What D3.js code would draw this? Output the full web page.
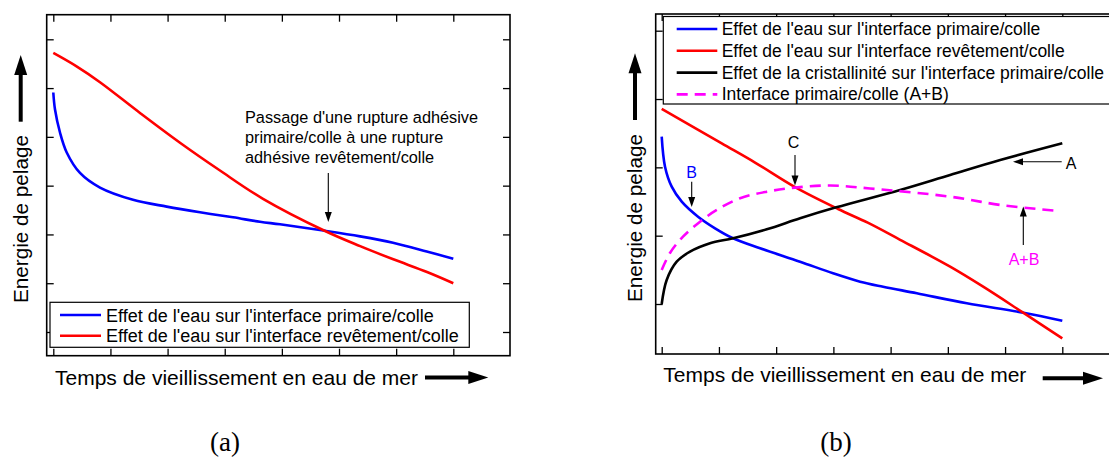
<!DOCTYPE html>
<html><head><meta charset="utf-8">
<script src="https://cdn.jsdelivr.net/npm/d3@7"></script>
<style>body{margin:0;background:#fff} svg{display:block} text{font-family:"Liberation Sans",Arial,sans-serif;fill:#000}</style>
</head><body><svg id="c" width="1109" height="458"></svg>
<script>
// ---------- data ----------
const xTicks = [0,1,2,3,4,5,6,7];
const yTicksA = [0,1,2,3,4,5,6];
const yTicksB = [0,1,2,3,4];

// panel (a)
const aBlueX = [0,0.03,0.117,0.235,0.467,0.817,1.395,1.985,2.567,3.145,3.617,3.967,4.756,5.37,5.945,6.535,7.0];
const aBlueY = [4.91,4.56,4.09,3.68,3.26,2.96,2.71,2.57,2.454,2.351,2.259,2.207,2.074,1.96,1.83,1.65,1.50];
const aRedX  = [0,0.4,0.817,1.517,2.217,2.917,3.67,4.756,5.37,5.95,6.54,7.0];
const aRedY  = [5.72,5.45,5.12,4.49,3.88,3.31,2.73,2.07,1.76,1.49,1.23,1.0];

// panel (b)
const bBlueX = [0,0.058,0.175,0.35,0.635,0.932,1.247,1.719,2.418,2.995,3.467,3.869,4.458,5.332,6.322,7.0];
const bBlueY = [2.449,2.01,1.717,1.498,1.278,1.108,0.962,0.816,0.619,0.449,0.327,0.253,0.157,0.01,-0.127,-0.245];
const bRedX  = [0,1.049,1.631,2.33,3.082,3.6,4.166,5.04,5.617,6.316,7.0];
const bRedY  = [2.855,2.35,2.07,1.71,1.39,1.19,0.94,0.546,0.253,-0.127,-0.502];
const bBlackX = [0,0.087,0.262,0.495,0.844,1.247,1.836,2.418,3.05,4.166,5.04,5.915,7.0];
const bBlackY = [0,0.351,0.619,0.766,0.889,0.962,1.094,1.255,1.415,1.669,1.889,2.108,2.353];
const bMagX = [0,0.145,0.372,0.67,0.962,1.369,1.836,2.33,2.942,3.64,5.04,5.915,6.876];
const bMagY = [0.498,0.747,0.985,1.205,1.376,1.548,1.644,1.703,1.735,1.691,1.571,1.45,1.367];

const legendA = ["Effet de l'eau sur l'interface primaire/colle","Effet de l'eau sur l'interface revêtement/colle"];
const legendB = ["Effet de l'eau sur l'interface primaire/colle","Effet de l'eau sur l'interface revêtement/colle","Effet de la cristallinité sur l'interface primaire/colle","Interface primaire/colle (A+B)"];
const annotA = ["Passage d'une rupture adhésive","primaire/colle à une rupture","adhésive revêtement/colle"];
const xLabel = "Temps de vieillissement en eau de mer";
const yLabel = "Energie de pelage";

const BLUE="#0000ff", RED="#ff0000", BLACK="#000000", MAG="#ff00ff";

// ---------- drawing ----------
const svg = d3.select("#c");
const zip = (xs,ys)=>xs.map((x,i)=>[x,ys[i]]);

function drawArrow(g,x1,y1,x2,y2,w,hl,hw){
  const dx=x2-x1, dy=y2-y1, L=Math.hypot(dx,dy), ux=dx/L, uy=dy/L;
  const bx=x2-ux*hl, by=y2-uy*hl;
  g.append("line").attr("x1",x1).attr("y1",y1).attr("x2",bx+ux*1).attr("y2",by+uy*1)
    .attr("stroke","#000").attr("stroke-width",w);
  g.append("path").attr("d",`M${x2},${y2}L${bx-uy*hw},${by+ux*hw}L${bx+uy*hw},${by-ux*hw}Z`).attr("fill","#000");
}

function panel(o){
  const g = svg.append("g");
  const x = d3.scaleLinear().domain([0,7]).range(o.xr);
  const y = d3.scaleLinear().domain([0,o.yTicks[o.yTicks.length-1]]).range(o.yr);
  const L=o.frame[0], T=o.frame[1], R=o.frame[2], B=o.frame[3];
  const tk=7;
  g.append("g").attr("transform",`translate(0,${T})`).call(d3.axisBottom(x).tickValues(xTicks).tickSize(tk).tickFormat(""));
  g.append("g").attr("transform",`translate(0,${B})`).call(d3.axisTop(x).tickValues(xTicks).tickSize(tk).tickFormat(""));
  g.append("g").attr("transform",`translate(${L},0)`).call(d3.axisRight(y).tickValues(o.yTicks).tickSize(tk).tickFormat(""));
  g.append("g").attr("transform",`translate(${R},0)`).call(d3.axisLeft(y).tickValues(o.yTicks).tickSize(tk).tickFormat(""));
  g.selectAll(".domain").remove();
  g.selectAll(".tick line").attr("stroke","#000").attr("stroke-width",1.3);
  g.append("rect").attr("x",L).attr("y",T).attr("width",R-L).attr("height",B-T)
    .attr("fill","none").attr("stroke","#000").attr("stroke-width",1.6);
  const line = d3.line().x(d=>x(d[0])).y(d=>y(d[1])).curve(d3.curveCatmullRom.alpha(0.5));
  o.series.forEach(s=>{
    g.append("path").attr("d",line(zip(s.x,s.y))).attr("fill","none")
      .attr("stroke",s.c).attr("stroke-width",2.6).attr("stroke-dasharray",s.dash||null);
  });
  return {g,x,y};
}

// ---- Panel (a)
const A = panel({xr:[53.3,453.3], yr:[332,39.3], yTicks:yTicksA, frame:[46.7,14.7,510,355.7],
  series:[{x:aBlueX,y:aBlueY,c:BLUE},{x:aRedX,y:aRedY,c:RED}]});
const lgA = A.g.append("g");
lgA.append("rect").attr("x",50).attr("y",302.3).attr("width",419.3).attr("height",45)
  .attr("fill","#fff").attr("stroke","#000").attr("stroke-width",1.2);
legendA.forEach((t,i)=>{
  const cy=315+i*20.7;
  lgA.append("line").attr("x1",60).attr("x2",101).attr("y1",cy).attr("y2",cy).attr("stroke",[BLUE,RED][i]).attr("stroke-width",2.6);
  lgA.append("text").attr("x",106).attr("y",cy+6.7).attr("font-size",18).text(t);
});
annotA.forEach((t,i)=>{
  A.g.append("text").attr("x",245).attr("y",122.7+i*20).attr("font-size",16.3).text(t);
});
drawArrow(A.g,328.3,173,328.3,222,1.1,10,3.5);

// ---- Panel (b)
const Bp = panel({xr:[661.7,1062.3], yr:[304,30.7], yTicks:yTicksB, frame:[655.7,14,1120,354],
  series:[{x:bBlueX,y:bBlueY,c:BLUE},{x:bRedX,y:bRedY,c:RED},{x:bBlackX,y:bBlackY,c:BLACK},{x:bMagX,y:bMagY,c:MAG,dash:"11,7"}]});
const lgB = Bp.g.append("g");
lgB.append("rect").attr("x",663.3).attr("y",16.5).attr("width",460).attr("height",87.5)
  .attr("fill","#fff").attr("stroke","#000").attr("stroke-width",1.2);
const bCols=[BLUE,RED,BLACK,MAG];
legendB.forEach((t,i)=>{
  const cy=29+i*21.8;
  lgB.append("line").attr("x1",676.7).attr("x2",717.3).attr("y1",cy).attr("y2",cy).attr("stroke",bCols[i])
    .attr("stroke-width",2.6).attr("stroke-dasharray",i===3?"11,7":null);
  lgB.append("text").attr("x",721.7).attr("y",cy+6).attr("font-size",17.5).text(t);
});
Bp.g.append("text").attr("x",691.7).attr("y",177.5).attr("text-anchor","middle").attr("font-size",16).style("fill",BLUE).text("B");
drawArrow(Bp.g,691.7,181.7,691.7,207,1.1,10,3.5);
Bp.g.append("text").attr("x",793.5).attr("y",147.5).attr("text-anchor","middle").attr("font-size",16).text("C");
drawArrow(Bp.g,795,155,795,185.5,1.1,10,3.5);
Bp.g.append("text").attr("x",1071).attr("y",169).attr("text-anchor","middle").attr("font-size",16).text("A");
drawArrow(Bp.g,1061.7,161.7,1013,161.7,1.1,10,3.5);
Bp.g.append("text").attr("x",1024).attr("y",265).attr("text-anchor","middle").attr("font-size",16).style("fill",MAG).text("A+B");
drawArrow(Bp.g,1023.3,245,1023.3,206.5,1.1,10,3.5);

// ---- axis labels & big arrows
const lab = svg.append("g");
lab.append("text").attr("x",55).attr("y",385).attr("font-size",21).text(xLabel);
lab.append("text").attr("x",663.3).attr("y",382).attr("font-size",21).text(xLabel);
lab.append("text").attr("transform","translate(28.3,219) rotate(-90)").attr("text-anchor","middle").attr("font-size",20.7).text(yLabel);
lab.append("text").attr("transform","translate(641.7,218) rotate(-90)").attr("text-anchor","middle").attr("font-size",20.7).text(yLabel);
drawArrow(lab,425,377.5,488.3,377.5,4,20,6.5);
drawArrow(lab,1042.7,378.3,1103,378.3,4,20,6.5);
drawArrow(lab,20.7,121.7,20.7,55,4,20,6.5);
drawArrow(lab,635,120,635,53.3,4,20,6.5);

// ---- captions
lab.append("text").attr("x",225).attr("y",451).attr("text-anchor","middle").attr("font-size",27)
  .style("font-family","'Liberation Serif','DejaVu Serif',serif").text("(a)");
lab.append("text").attr("x",836).attr("y",451).attr("text-anchor","middle").attr("font-size",27)
  .style("font-family","'Liberation Serif','DejaVu Serif',serif").text("(b)");
</script></body></html>
